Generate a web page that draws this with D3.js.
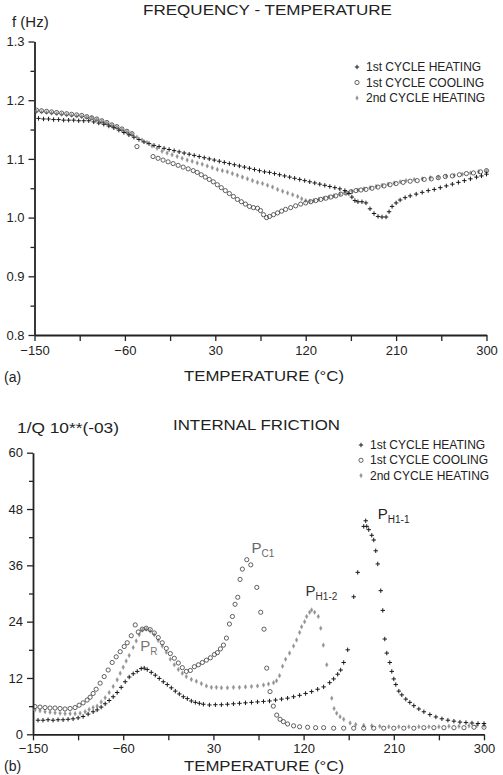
<!DOCTYPE html>
<html>
<head>
<meta charset="utf-8">
<script src="https://cdn.jsdelivr.net/npm/d3@7"></script>
<style>
  body { margin: 0; background: #fff; }
  text { font-family: "Liberation Sans", Arial, sans-serif; fill: #222; }
</style>
</head>
<body>
<svg id="chart" width="503" height="775"></svg>
<script>
// panel (a): frequency vs temperature, [T (°C), f (Hz)]
const freqHeat1 = [[-146,1.169],[-141,1.168],[-136,1.168],[-131,1.167],[-126,1.167],[-121,1.166],[-116,1.166],[-111,1.166],[-106,1.165],[-101,1.165],[-96,1.165],[-91,1.163],[-86,1.161],[-81,1.159],[-76,1.156],[-71,1.153],[-66,1.149],[-61,1.145],[-56,1.141],[-51,1.137],[-46,1.133],[-41,1.129],[-36,1.126],[-31,1.123],[-26,1.121],[-21,1.118],[-16,1.116],[-11,1.114],[-6,1.112],[-1,1.11],[4,1.108],[9,1.106],[14,1.104],[19,1.102],[24,1.1],[29,1.098],[34,1.096],[39,1.094],[44,1.092],[49,1.09],[54,1.088],[59,1.086],[64,1.084],[69,1.082],[74,1.08],[79,1.078],[84,1.077],[89,1.075],[94,1.073],[99,1.071],[104,1.069],[109,1.067],[114,1.065],[119,1.063],[124,1.061],[129,1.059],[134,1.057],[139,1.055],[144,1.053],[149,1.051],[154,1.049],[159,1.046],[163,1.041],[166,1.035],[169,1.029],[172,1.027],[176,1.027],[180,1.025],[184,1.015],[188,1.007],[192,1.002],[196,1.001],[200,1.001],[203,1.01],[206,1.019],[210,1.025],[214,1.03],[219,1.034],[224,1.037],[230,1.04],[236,1.043],[242,1.046],[248,1.048],[254,1.051],[260,1.054],[266,1.057],[272,1.06],[278,1.063],[284,1.066],[290,1.069],[295,1.071],[300,1.074]];
const freqCool1 = [[-148,1.183],[-143,1.182],[-138,1.181],[-133,1.18],[-128,1.179],[-123,1.178],[-118,1.177],[-113,1.176],[-108,1.175],[-103,1.174],[-98,1.172],[-93,1.17],[-88,1.168],[-83,1.165],[-78,1.162],[-73,1.158],[-68,1.155],[-63,1.151],[-58,1.147],[-53,1.143],[-48,1.121],[-32,1.104],[-27,1.101],[-22,1.098],[-17,1.095],[-12,1.092],[-7,1.089],[-2,1.086],[3,1.083],[8,1.08],[12,1.077],[16,1.073],[20,1.069],[24,1.065],[28,1.061],[32,1.056],[36,1.051],[40,1.046],[44,1.041],[48,1.036],[52,1.031],[56,1.027],[60,1.023],[64,1.019],[68,1.017],[72,1.016],[75,1.012],[78,1.005],[81,1.0],[84,1.002],[88,1.005],[92,1.008],[96,1.011],[100,1.014],[105,1.017],[110,1.02],[115,1.023],[120,1.025],[125,1.027],[130,1.029],[135,1.031],[140,1.033],[145,1.035],[150,1.037],[155,1.04],[160,1.042],[165,1.044],[170,1.046],[175,1.047],[180,1.048],[186,1.05],[192,1.052],[198,1.054],[204,1.056],[210,1.058],[217,1.06],[224,1.062],[231,1.063],[238,1.065],[245,1.066],[252,1.068],[259,1.07],[266,1.071],[273,1.073],[280,1.075],[287,1.076],[294,1.078],[300,1.08]];
const freqHeat2 = [[-148,1.181],[-143,1.18],[-138,1.179],[-133,1.178],[-128,1.177],[-123,1.176],[-118,1.175],[-113,1.174],[-108,1.173],[-103,1.172],[-98,1.171],[-93,1.17],[-88,1.167],[-83,1.164],[-78,1.161],[-73,1.157],[-68,1.154],[-63,1.15],[-58,1.146],[-53,1.142],[-48,1.137],[-43,1.132],[-38,1.128],[-33,1.122],[-28,1.118],[-23,1.113],[-18,1.11],[-13,1.107],[-8,1.104],[-3,1.101],[2,1.098],[7,1.096],[12,1.093],[17,1.091],[22,1.088],[27,1.085],[32,1.082],[37,1.08],[42,1.078],[47,1.075],[52,1.072],[57,1.069],[62,1.066],[67,1.063],[72,1.06],[77,1.058],[82,1.055],[87,1.052],[92,1.048],[97,1.045],[102,1.042],[107,1.039],[112,1.036],[116,1.032],[120,1.029],[124,1.028],[128,1.029],[133,1.031],[138,1.033],[143,1.035],[148,1.037],[154,1.04],[160,1.042],[166,1.045],[172,1.047],[178,1.049],[184,1.051],[190,1.053],[196,1.055],[202,1.057],[208,1.059],[214,1.061],[220,1.063],[228,1.065],[236,1.066],[244,1.068],[252,1.069],[260,1.071],[268,1.072],[276,1.074],[284,1.076],[292,1.078],[300,1.079]];

// panel (b): internal friction 1/Q x 10^-3
const ifHeat1 = [[-145,3.0],[-140,3.0],[-135,3.1],[-130,3.0],[-125,3.1],[-120,3.1],[-115,3.2],[-110,3.3],[-105,3.5],[-100,3.8],[-95,4.3],[-90,4.8],[-86,5.2],[-82,5.8],[-78,6.5],[-74,7.2],[-70,8.0],[-66,8.9],[-62,10.0],[-58,11.2],[-54,12.2],[-50,12.9],[-46,13.4],[-42,14.0],[-39,14.1],[-36,13.8],[-32,13.2],[-28,12.6],[-24,11.9],[-20,11.2],[-16,10.6],[-12,9.9],[-8,9.2],[-4,8.6],[0,8.0],[4,7.6],[8,7.1],[12,6.8],[16,6.6],[20,6.4],[26,6.25],[32,6.3],[38,6.3],[44,6.4],[50,6.5],[56,6.6],[62,6.7],[68,6.8],[74,6.9],[80,7.0],[86,7.1],[92,7.3],[98,7.5],[104,7.7],[110,8.0],[116,8.3],[122,8.7],[128,9.1],[134,9.6],[140,10.1],[146,11.0],[150,11.8],[154,12.8],[157,13.7],[160,15.3],[164,18.0],[170,29.3],[174,34.5],[180,44.3],[182,45.5],[183,44.3],[185,43.6],[188,42.4],[190,41.4],[192,39.1],[194,36.3],[197,30.6],[199,26.4],[201,20.3],[203,17.3],[206,15.3],[208,13.4],[210,11.8],[212,10.6],[215,9.2],[218,8.4],[222,7.5],[226,6.8],[230,6.1],[235,5.4],[240,4.8],[246,4.2],[252,3.7],[258,3.3],[264,3.0],[270,2.8],[276,2.6],[282,2.5],[288,2.4],[294,2.3],[300,2.3]];
const ifCool1 = [[-148,5.9],[-143,5.8],[-138,5.7],[-133,5.6],[-128,5.6],[-123,5.5],[-118,5.4],[-113,5.5],[-108,5.7],[-104,6.2],[-100,6.7],[-96,7.3],[-93,7.9],[-90,8.7],[-87,9.6],[-83,10.9],[-79,12.3],[-75,13.7],[-71,15.3],[-67,16.5],[-63,17.6],[-59,18.7],[-56,19.5],[-52,21.0],[-48,23.3],[-45,21.8],[-41,22.4],[-37,22.6],[-33,22.3],[-29,21.6],[-25,20.6],[-21,19.5],[-17,18.3],[-13,17.2],[-9,16.2],[-5,15.2],[-1,14.2],[3,13.4],[7,13.6],[11,14.4],[15,14.8],[19,15.3],[23,15.8],[27,16.3],[31,17.0],[34,17.4],[37,18.2],[40,19.0],[43,20.5],[46,23.5],[49,25.1],[51.6,27.7],[54.3,29.2],[56.6,33.0],[58.9,35.2],[63.3,37.2],[67.3,36.1],[73.3,31.3],[77.2,26.0],[80.5,22.4],[83.2,14.1],[86.5,9.1],[89.8,6.0],[93.2,4.1],[96.5,3.2],[99.8,2.7],[104,2.2],[110,1.8],[116,1.6],[124,1.5],[132,1.4],[140,1.4],[150,1.3],[160,1.3],[170,1.3],[180,1.3],[190,1.3],[200,1.3],[210,1.3],[220,1.3],[230,1.3],[240,1.4],[250,1.4],[260,1.4],[270,1.4],[280,1.4],[290,1.5],[300,1.5]];
const ifHeat2 = [[-148,5.2],[-143,5.0],[-138,4.8],[-133,4.7],[-128,4.6],[-123,4.5],[-118,4.4],[-113,4.4],[-108,4.4],[-103,4.5],[-98,4.8],[-94,5.3],[-90,5.7],[-86,6.0],[-82,6.9],[-78,7.8],[-74,8.9],[-70,10.2],[-66,11.6],[-63,13.0],[-60,14.3],[-57,15.6],[-54,16.8],[-50,18.5],[-47,19.9],[-44,21.2],[-41,22.2],[-37,22.4],[-33,22.0],[-29,21.2],[-25,20.0],[-21,18.8],[-17,17.5],[-13,16.0],[-9,14.8],[-5,13.8],[-1,13.0],[3,12.3],[8,11.7],[13,11.3],[18,10.8],[23,10.3],[28,10.0],[33,10.0],[38,9.9],[44,9.9],[50,10.0],[56,10.0],[62,10.1],[68,10.2],[74,10.3],[80,10.5],[85,10.7],[90,11.0],[93,11.4],[96,12.5],[99,14.5],[102,16.0],[106,17.3],[110,18.8],[113,20.1],[116,21.7],[118,22.9],[121,24.0],[123,25.1],[126,26.0],[128,26.5],[131,26.0],[134.7,25.1],[137.1,22.6],[139.7,19.0],[143.1,14.8],[148.1,7.7],[150.4,5.5],[153,4.5],[156.4,3.75],[160,3.2],[166.4,2.4],[172,2.1],[180,1.9],[188,1.8],[196,1.7],[205,1.6],[215,1.6],[225,1.6],[235,1.6],[245,1.6],[255,1.6],[265,1.7],[275,1.7],[285,1.8],[293,1.9],[300,1.9]];

const tempTicks = [-150, -60, 30, 120, 210, 300];
const tempMinor = [-105, -15, 75, 165, 255];
const freqTicks = [0.8, 0.9, 1.0, 1.1, 1.2, 1.3];
const freqMinor = [0.85, 0.95, 1.05, 1.15, 1.25];
const ifTicks = [0, 12, 24, 36, 48, 60];
const ifMinor = [6, 18, 30, 42, 54];
const seriesNames = ["1st CYCLE HEATING", "1st CYCLE COOLING", "2nd CYCLE HEATING"];

const svg = d3.select("#chart");
svg.append("rect").attr("width", 503).attr("height", 775).attr("fill", "#fff");

// marker painters for the three cycles
const marks = [
  (g, x, y) => g.append("path").attr("transform", `translate(${x},${y})`)
      .attr("fill", "none").attr("stroke", "#1a1a1a").attr("stroke-width", 1)
      .attr("d", "M-2.2,0H2.2M0,-2.2V2.2"),
  (g, x, y) => g.append("circle").attr("cx", x).attr("cy", y).attr("r", 2.1)
      .attr("fill", "none").attr("stroke", "#3a3a3a").attr("stroke-width", 0.8),
  (g, x, y) => g.append("path").attr("transform", `translate(${x},${y})`)
      .attr("d", d3.symbol(d3.symbolDiamond, 6)())
      .attr("fill", "#8f8f8f").attr("stroke", "#a0a0a0").attr("stroke-width", 0.5)
];

const drawPanel = (cfg) => {
  const x = d3.scaleLinear().domain([-150, 300]).range(cfg.xr);
  const y = d3.scaleLinear().domain(cfg.yd).range(cfg.yr);
  const g = svg.append("g");

  g.append("g").attr("transform", `translate(0,${cfg.yr[0]})`)
    .call(d3.axisBottom(x).tickValues(tempTicks).tickSize(6).tickSizeOuter(0)
      .tickPadding(cfg.xpad).tickFormat(d3.format("d")));
  g.append("g").attr("transform", `translate(0,${cfg.yr[0]})`)
    .call(d3.axisBottom(x).tickValues(tempMinor).tickSize(6).tickSizeOuter(0).tickFormat(""))
    .select(".domain").remove();

  g.append("g").attr("transform", `translate(${cfg.xr[0]},0)`)
    .call(d3.axisLeft(y).tickValues(cfg.ticks).tickSize(6).tickSizeOuter(0)
      .tickPadding(4).tickFormat(cfg.fmt));
  g.append("g").attr("transform", `translate(${cfg.xr[0]},0)`)
    .call(d3.axisLeft(y).tickValues(cfg.minor).tickSize(4).tickSizeOuter(0).tickFormat(""))
    .select(".domain").remove();

  g.selectAll(".domain").attr("stroke", "#222").attr("stroke-width", 1.8);
  g.selectAll(".tick line").attr("stroke", "#222").attr("stroke-width", 1.3);
  g.selectAll(".tick text").attr("fill", "#222").style("font-size", "13px")
    .style("font-family", '"Liberation Sans", Arial, sans-serif');

  // data points, 2nd heating first so the darker marks sit on top
  const pts = g.append("g");
  [2, 1, 0].forEach(i => {
    cfg.series[i].forEach(d => marks[i](pts, x(d[0]), y(d[1])));
  });

  // legend
  seriesNames.forEach((name, i) => {
    const ly = cfg.legend[1] + i * cfg.legend[2];
    marks[i](g, cfg.legend[0], ly - 4);
    g.append("text").attr("x", cfg.legend[0] + 9).attr("y", ly)
      .style("font-size", "12px").text(name);
  });

  return { x, y, g };
};

// panel (a)
drawPanel({
  xr: [34.5, 486.5], yd: [0.8, 1.3], yr: [335, 41.5], xpad: 5,
  ticks: freqTicks, minor: freqMinor, fmt: d3.format(".1f"),
  series: [freqHeat1, freqCool1, freqHeat2],
  legend: [357, 71, 15.5]
});
svg.append("text").attr("x", 143).attr("y", 15).attr("textLength", 249)
  .attr("lengthAdjust", "spacingAndGlyphs").style("font-size", "15px").text("FREQUENCY - TEMPERATURE");
svg.append("text").attr("x", 12).attr("y", 27).style("font-size", "15px").text("f (Hz)");
svg.append("text").attr("x", 184).attr("y", 381).attr("textLength", 160)
  .attr("lengthAdjust", "spacingAndGlyphs").style("font-size", "14px").text("TEMPERATURE (°C)");
svg.append("text").attr("x", 4).attr("y", 382).style("font-size", "14px").text("(a)");

// panel (b)
const b = drawPanel({
  xr: [33, 484], yd: [0, 60], yr: [734.3, 452.7], xpad: 3,
  ticks: ifTicks, minor: ifMinor, fmt: d3.format("d"),
  series: [ifHeat1, ifCool1, ifHeat2],
  legend: [361, 449, 15.3]
});
svg.append("text").attr("x", 173).attr("y", 430).attr("textLength", 167)
  .attr("lengthAdjust", "spacingAndGlyphs").style("font-size", "15px").text("INTERNAL FRICTION");
svg.append("text").attr("x", 17).attr("y", 433).attr("textLength", 102)
  .attr("lengthAdjust", "spacingAndGlyphs").style("font-size", "14px").text("1/Q  10**(-03)");
svg.append("text").attr("x", 184).attr("y", 771).attr("textLength", 160)
  .attr("lengthAdjust", "spacingAndGlyphs").style("font-size", "14px").text("TEMPERATURE (°C)");
svg.append("text").attr("x", 4).attr("y", 771).style("font-size", "14px").text("(b)");

// peak labels
const peakLabel = (t, v, main, sub, color) => {
  const txt = svg.append("text").attr("x", b.x(t)).attr("y", b.y(v))
    .style("font-size", "15px").style("fill", color);
  txt.append("tspan").text(main);
  txt.append("tspan").attr("dy", 4).style("font-size", "10px").text(sub);
};
peakLabel(-43, 17.8, "P", "R", "#777");
peakLabel(68, 38.6, "P", "C1", "#666");
peakLabel(122, 29.5, "P", "H1-2", "#333");
peakLabel(194, 45.8, "P", "H1-1", "#222");
</script>
</body>
</html>
